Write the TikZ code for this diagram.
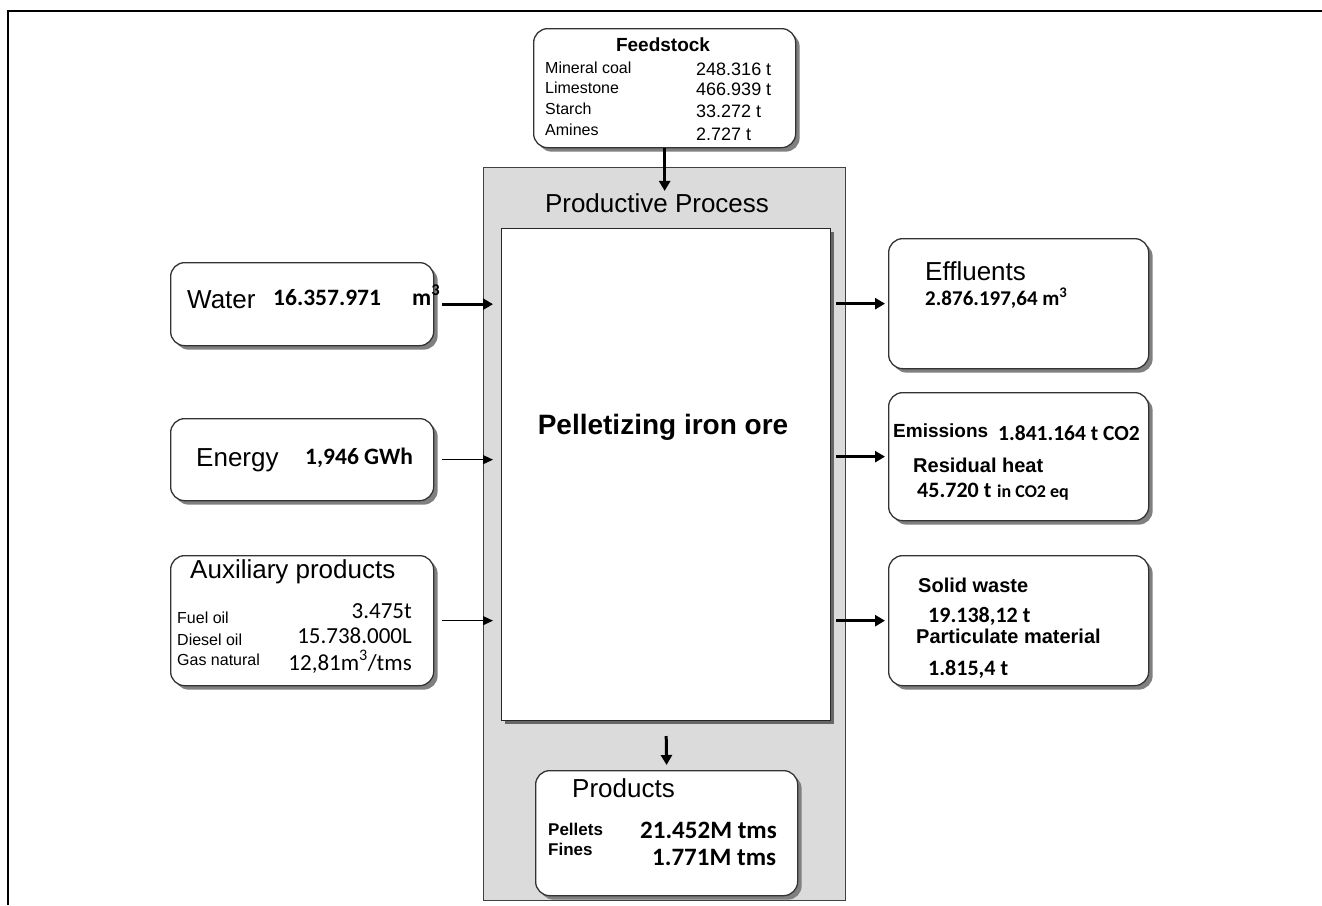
\documentclass[tikz,border=0pt]{standalone}
\usepackage{fontspec}
\setmainfont{Liberation Sans}
\newfontfamily\calib{Carlito}
\usetikzlibrary{
  positioning,
  shadows,
  arrows.meta,
}
\newcommand{\fsz}[1]{\fontsize{#1}{#1}\selectfont}
\tikzset{
  frame/.style = {
    line width = 2.5pt
  },
  process/.style = {
    draw = black!75,
    fill = black!14,
    line width = 1pt,
    anchor = north west,
    inner sep = 0
  },
  core/.style = {
    draw = black!85,
    fill = white,
    line width = 1pt,
    anchor = north west,
    inner sep = 0,
    drop shadow = {shadow xshift = 3pt, shadow yshift = -3pt, fill = black!60, opacity = 1}
  },
  panel/.style = {
    draw = black!80,
    fill = white,
    line width = 1.3pt,
    rounded corners = 14pt,
    anchor = north west,
    inner sep = 0,
    drop shadow = {shadow xshift = 4pt, shadow yshift = -4pt, fill = black!50, opacity = 1}
  },
  big/.style = {
    font = \fsz{26},
    anchor = base west,
    inner sep = 0
  },
  tag/.style = {
    font = \bfseries\fsz{20},
    anchor = base west,
    inner sep = 0
  },
  item/.style = {
    font = \fsz{16},
    anchor = base west,
    inner sep = 0
  },
  num/.style = {
    font = \calib\bfseries\fsz{22},
    anchor = base west,
    inner sep = 0
  },
  bigflow/.style = {
    line width = 3pt,
    -{Triangle[length = 10pt, width = 11pt]}
  },
  smallflow/.style = {
    line width = 1.2pt,
    -{Triangle[length = 10pt, width = 9pt]}
  },
}

\begin{document}
\begin{tikzpicture}[x = 1pt, y = -1pt]
  \useasboundingbox (0,0) rectangle (1322,905);
  \draw[frame] (1322,11) -- (8,11) -- (8,905);

  % process block
  \node[process, minimum width = 362pt, minimum height = 733pt] (proc) at (483,167) {};
  \node[big, anchor = base] (proct) at (657,212) {Productive Process};
  \node[core, minimum width = 329pt, minimum height = 492pt] (core) at (501,228) {};
  \node[font = \bfseries\fsz{28}] (coret) at (663,427) {Pelletizing iron ore};

  % feedstock
  \node[panel, minimum width = 262pt, minimum height = 119pt] (feed) at (533,28) {};
  \node[tag, font = \bfseries\fsz{19}, anchor = base] (feedt) at (663,51) {Feedstock};
  \foreach \name/\val/\ya/\yb [count = \i] in {
    Mineral coal/248.316 t/73/75,
    Limestone/466.939 t/93/95,
    Starch/33.272 t/114/117,
    Amines/2.727 t/135/140}{
    \node[item] (feedk\i) at (545,\ya) {\name};
    \node[item, font = \fsz{18}] (feedv\i) at (696,\yb) {\val};
  }

  % inputs
  \node[panel, minimum width = 263pt, minimum height = 83pt] (water) at (170,262) {};
  \node[big] (watert) at (187,308) {Water};
  \node[num, font = \calib\bfseries\fsz{23.5}] (waterv) at (273,305) {16.357.971};
  \node[num, font = \calib\bfseries\fsz{23.5}] (waterm) at (412,305) {m\textsuperscript{3}};

  \node[panel, minimum width = 263pt, minimum height = 82pt] (energy) at (170,418) {};
  \node[big] (energyt) at (196,466) {Energy};
  \node[num, font = \calib\bfseries\fsz{23.5}] (energyv) at (305,464) {1,946 GWh};

  \node[panel, minimum width = 263pt, minimum height = 130pt] (aux) at (170,555) {};
  \node[big] (auxt) at (190,578) {Auxiliary products};
  \node[item] (auxk1) at (177,623) {Fuel oil};
  \node[item] (auxk2) at (177,645) {Diesel oil};
  \node[item] (auxk3) at (177,665) {Gas natural};
  \node[num, font = \calib\fsz{23}, anchor = base east] (auxv1) at (412,618) {3.475t};
  \node[num, font = \calib\fsz{23}, anchor = base east] (auxv2) at (412,643) {15.738.000L};
  \node[num, font = \calib\fsz{23}, anchor = base east] (auxv3) at (412,670) {12,81m\textsuperscript{3}/tms};

  % outputs
  \node[panel, minimum width = 260pt, minimum height = 130pt] (effl) at (888,238) {};
  \node[big] (efflt) at (925,280) {Effluents};
  \node[num, font = \calib\bfseries\fsz{21}] (efflv) at (925,305) {2.876.197,64 m\textsuperscript{3}};

  \node[panel, minimum width = 260pt, minimum height = 128pt] (emis) at (888,392) {};
  \node[tag, font = \bfseries\fsz{19}] (emist) at (893,437) {Emissions};
  \node[num, font = \calib\bfseries\fsz{21.5}] (emisv) at (998,440) {1.841.164 t CO2};
  \node[tag] (heatt) at (913,472) {Residual heat};
  \node[num] (heatv) at (917,497) {45.720 t};
  \node[num, font = \calib\bfseries\fsz{18}] (heatu) at (997,497) {in CO2 eq};

  \node[panel, minimum width = 260pt, minimum height = 130pt] (solid) at (888,555) {};
  \node[tag] (solidt) at (918,592) {Solid waste};
  \node[num] (solidv) at (928,622) {19.138,12 t};
  \node[tag] (partt) at (916,643) {Particulate material};
  \node[num] (partv) at (928,675) {1.815,4 t};

  % products
  \node[panel, minimum width = 262pt, minimum height = 125pt] (prod) at (535,770) {};
  \node[big] (prodt) at (572,797) {Products};
  \node[tag, font = \bfseries\fsz{17}] (prodk1) at (548,835) {Pellets};
  \node[tag, font = \bfseries\fsz{17}] (prodk2) at (548,855) {Fines};
  \node[num, font = \calib\bfseries\fsz{25}] (prodv1) at (640,838) {21.452M tms};
  \node[num, font = \calib\bfseries\fsz{25}] (prodv2) at (652,865) {1.771M tms};

  % flows
  \draw[bigflow, shorten >= 2pt] (feed.south) -- (feed.south |- proct.north);
  \draw[bigflow, shorten <= 8pt, shorten >= 8pt] (water.east) -- (water.east -| core.west);
  \draw[smallflow, shorten <= 8pt, shorten >= 8pt] (energy.east) -- (energy.east -| core.west);
  \draw[smallflow, shorten <= 8pt, shorten >= 8pt] (aux.east) -- (aux.east -| core.west);
  \draw[bigflow, shorten <= 5pt, shorten >= 3pt] (core.east |- effl.west) -- (effl.west);
  \draw[bigflow, shorten <= 5pt, shorten >= 3pt] (core.east |- emis.west) -- (emis.west);
  \draw[bigflow, shorten <= 5pt, shorten >= 3pt] (core.east |- solid.west) -- (solid.west);
  \draw[bigflow, shorten <= 15pt, shorten >= 5pt] (core.south) -- (prod.north);
\end{tikzpicture}
\end{document}
